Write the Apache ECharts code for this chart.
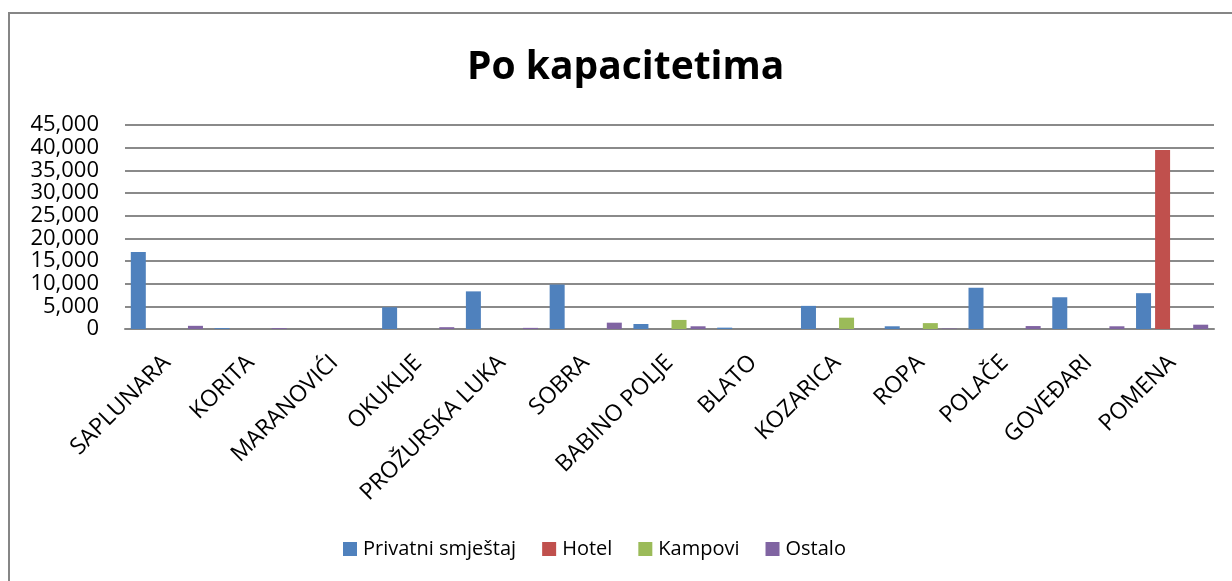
<!DOCTYPE html>
<html>
<head>
<meta charset="utf-8">
<script src="https://cdn.jsdelivr.net/npm/echarts@6/dist/echarts.min.js"></script>
<style>
  html, body { margin: 0; padding: 0; background: #fff; }
  #main { width: 1232px; height: 581px; }
</style>
</head>
<body>
<div id="main"></div>
<script>
var categories = ['SAPLUNARA', 'KORITA', 'MARANOVIĆI', 'OKUKLJE', 'PROŽURSKA LUKA', 'SOBRA',
    'BABINO POLJE', 'BLATO', 'KOZARICA', 'ROPA', 'POLAČE', 'GOVEĐARI', 'POMENA'];
var privatni = [17000, 200, 0, 4800, 8300, 9800, 1100, 300, 5100, 600, 9100, 7000, 7900];
var hotel = [0, 0, 0, 0, 0, 0, 0, 0, 0, 0, 0, 0, 39500];
var kampovi = [0, 0, 0, 0, 0, 0, 2000, 0, 2500, 1300, 0, 0, 0];
var ostalo = [700, 200, 0, 400, 250, 1400, 600, 0, 0, 100, 650, 600, 950];

var font = 'Open Sans';
var myChart = echarts.init(document.getElementById('main'));

function bar(name, data, color) {
    return {
        name: name,
        type: 'bar',
        data: data,
        barWidth: 15,
        barGap: '27%',
        itemStyle: { color: color }
    };
}

myChart.setOption({
    backgroundColor: '#fff',
    animation: false,
    title: {
        text: 'Po kapacitetima',
        left: 462,
        top: 43,
        textStyle: { fontFamily: font, fontWeight: 'bold', fontSize: 39, color: '#000' }
    },
    graphic: [{
        type: 'rect',
        shape: { x: 9, y: 13, width: 1240, height: 600 },
        style: { fill: 'none', stroke: '#868686', lineWidth: 2 },
        silent: true
    }],
    legend: {
        left: 338,
        top: 534,
        itemWidth: 14,
        itemHeight: 14,
        itemGap: 26,
        icon: 'rect',
        textStyle: { fontFamily: font, fontSize: 20, color: '#000', padding: [0, 0, 0, 1] },
        data: ['Privatni smještaj', 'Hotel', 'Kampovi', 'Ostalo']
    },
    grid: { left: 125, right: 18, top: 125, bottom: 252 },
    xAxis: {
        type: 'category',
        data: categories,
        axisLine: { lineStyle: { color: '#868686', width: 2 } },
        axisTick: { show: false },
        axisLabel: {
            rotate: 45,
            interval: 0,
            margin: 30,
            fontFamily: font,
            fontSize: 23,
            color: '#000'
        }
    },
    yAxis: {
        type: 'value',
        min: 0,
        max: 45000,
        interval: 5000,
        axisLine: { show: false },
        axisTick: { show: false },
        splitLine: { lineStyle: { color: '#8a8a8a', width: 2 } },
        axisLabel: {
            margin: 26,
            fontFamily: font,
            fontSize: 22,
            color: '#000',
            formatter: function (v) { return v.toLocaleString('en-US'); }
        }
    },
    series: [
        bar('Privatni smještaj', privatni, '#4F81BD'),
        bar('Hotel', hotel, '#C0504D'),
        bar('Kampovi', kampovi, '#9BBB59'),
        bar('Ostalo', ostalo, '#8064A2')
    ]
});
</script>
</body>
</html>
